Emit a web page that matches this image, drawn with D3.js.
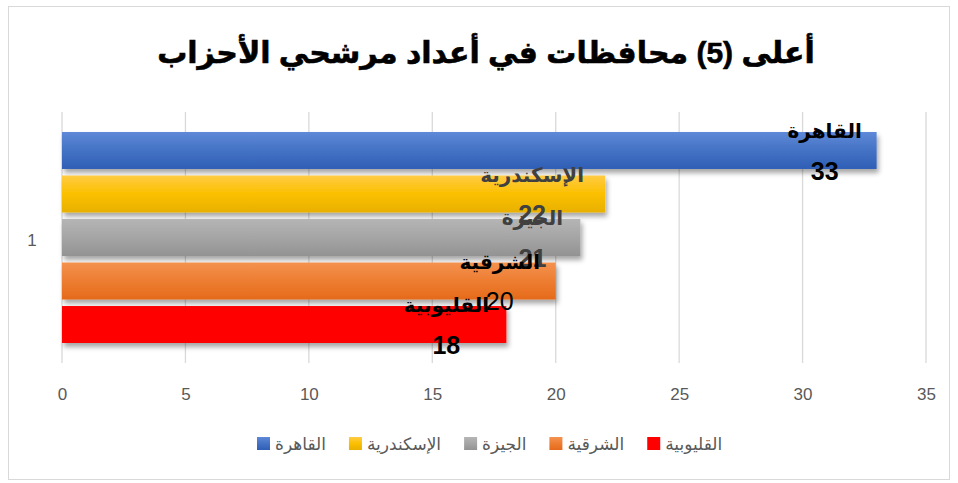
<html>
<head>
<meta charset="utf-8">
<title>Top 5 governorates</title>
<style>
  body { margin:0; background:#fff; }
  svg { display:block; }
</style>
<script src="https://d3js.org/d3.v7.min.js"></script>
</head>
<body>
<script>
var governorates = ["القاهرة", "الإسكندرية", "الجيزة", "الشرقية", "القليوبية"];
var candidates = [33, 22, 21, 20, 18];
var xTicks = [0, 5, 10, 15, 20, 25, 30, 35];
var categoryLabel = "1";
var title = "أعلى (5) محافظات في أعداد مرشحي الأحزاب";

var W = 958, H = 483;
var font = "Arial, 'Liberation Sans', 'DejaVu Sans', sans-serif";
var colors = [["#5f89d8", "#4472c4", "#2f5fb6"],
              ["#ffcb44", "#fbc000", "#e8b000"],
              ["#b5b5b5", "#a5a5a5", "#939393"],
              ["#f4924f", "#ed7d31", "#e56a1b"],
              ["#ff0000", "#ff0000", "#ff0000"]];
var labelColor = ["#000", "#404040", "#404040", "#000", "#000"];
var valueWeight = ["bold", "bold", "bold", "normal", "bold"];

var svg = d3.select("body").append("svg").attr("width", W).attr("height", H);
var defs = svg.append("defs");

colors.forEach(function(c, i){
  var g = defs.append("linearGradient").attr("id", "g" + i)
    .attr("x1", 0).attr("y1", 0).attr("x2", 0).attr("y2", 1);
  g.append("stop").attr("offset", "0%").attr("stop-color", c[0]);
  g.append("stop").attr("offset", "50%").attr("stop-color", c[1]);
  g.append("stop").attr("offset", "100%").attr("stop-color", c[2]);
});
var f = defs.append("filter").attr("id", "shadow")
  .attr("x", "-5%").attr("y", "-20%").attr("width", "115%").attr("height", "160%");
f.append("feDropShadow").attr("dx", 2).attr("dy", 4).attr("stdDeviation", 2.5)
  .attr("flood-color", "#000").attr("flood-opacity", 0.35);

// chart border
svg.append("rect").attr("x", 8.5).attr("y", 6.5).attr("width", 941).attr("height", 473)
  .attr("fill", "#fff").attr("stroke", "#d9d9d9");

svg.append("text").attr("x", 486).attr("y", 63)
  .attr("text-anchor", "middle").attr("direction", "rtl")
  .style("font", "bold 30px " + font).attr("fill", "#000")
  .attr("stroke", "#000").attr("stroke-width", 0.6)
  .text(title);

var x = d3.scaleLinear().domain([0, 35]).range([62, 926]);
var y = d3.scaleBand().domain(governorates).range([132, 343]).paddingInner(0.15);

// grid
svg.append("g").selectAll("line").data(xTicks).enter().append("line")
  .attr("x1", d => x(d)).attr("x2", d => x(d))
  .attr("y1", 112).attr("y2", 363)
  .attr("stroke", "#d9d9d9").attr("stroke-width", 1.3);

var xAxis = svg.append("g").attr("transform", "translate(0,363)")
  .call(d3.axisBottom(x).tickValues(xTicks).tickSize(0).tickPadding(25));
xAxis.select(".domain").remove();
xAxis.selectAll("text").style("font", "17px " + font).attr("fill", "#595959");

svg.append("text").attr("x", 32).attr("y", 240).attr("dy", "0.35em")
  .attr("text-anchor", "middle").style("font", "17px " + font).attr("fill", "#595959")
  .text(categoryLabel);

// bars
svg.append("g").selectAll("rect").data(governorates).enter().append("rect")
  .attr("x", x(0)).attr("y", d => y(d))
  .attr("width", (d, i) => x(candidates[i]) - x(0))
  .attr("height", y.bandwidth())
  .attr("fill", (d, i) => "url(#g" + i + ")")
  .attr("filter", "url(#shadow)");

// data labels
var offs = [-52, -73, -48, -56, -60];
var lab = svg.append("g").selectAll("g").data(governorates).enter().append("g")
  .attr("transform", (d, i) => "translate(" + (x(candidates[i]) + offs[i]) + ",0)");
lab.append("text").attr("y", d => y(d) - 1).attr("dy", "0.35em")
  .attr("text-anchor", "middle").attr("direction", "rtl")
  .style("font", "bold 20px " + font)
  .attr("fill", (d, i) => labelColor[i]).text(d => d);
lab.append("text").attr("y", d => y(d) + y.bandwidth() + 2).attr("dy", "0.35em")
  .attr("text-anchor", "middle")
  .style("font-family", font).style("font-size", "25px")
  .style("font-weight", (d, i) => valueWeight[i])
  .attr("fill", (d, i) => labelColor[i]).text((d, i) => candidates[i]);

// legend
var lx = 257;
governorates.forEach(function(g, i){
  var item = svg.append("g").attr("transform", "translate(" + lx + ",444)");
  item.append("rect").attr("x", 0).attr("y", -7).attr("width", 13).attr("height", 13)
    .attr("fill", "url(#g" + i + ")");
  var t = item.append("text").attr("x", 18).attr("dy", "0.35em")
    .attr("text-anchor", "start")
    .style("font", "17px " + font).attr("fill", "#595959").text(g);
  lx += 18 + t.node().getComputedTextLength() + 23;
});
</script>
</body>
</html>
